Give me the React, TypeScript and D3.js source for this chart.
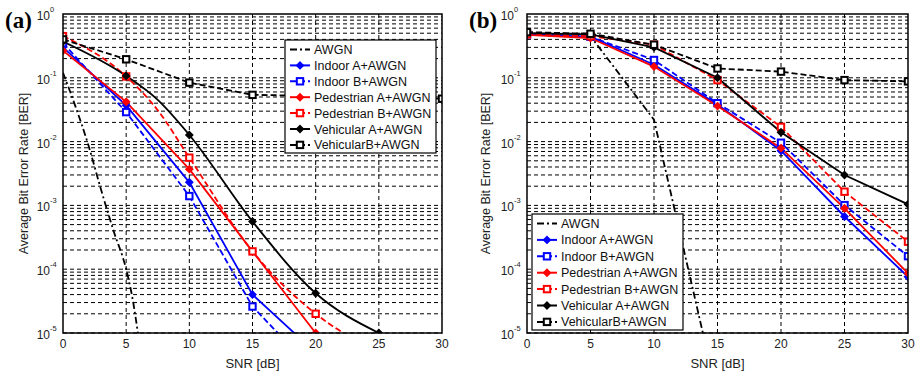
import React from "react";
import * as d3 from "d3";

// ---------- data ----------
const xTicks = [0, 5, 10, 15, 20, 25, 30];
const yExps = [0, -1, -2, -3, -4, -5];
const legendNames = [
  "AWGN",
  "Indoor A+AWGN",
  "Indoor B+AWGN",
  "Pedestrian A+AWGN",
  "Pedestrian B+AWGN",
  "Vehicular A+AWGN",
  "VehicularB+AWGN",
];

// panel (a)
const awgnA_x = [0, 1, 2, 3, 4, 5, 5.5, 6];
const awgnA_y = [0.12, 0.035, 0.0089, 0.0018, 4e-4, 1e-4, 3.5e-5, 8e-6];
const indoorA_A_x = [0, 5, 10, 15, 20];
const indoorA_A_y = [0.3, 0.037, 0.0023, 4.0e-5, 4.9e-6];
const indoorB_A_x = [0, 5, 10, 15, 20];
const indoorB_A_y = [0.35, 0.029, 0.0014, 2.6e-5, 2.4e-6];
const pedA_A_x = [0, 5, 10, 15, 20];
const pedA_A_y = [0.266, 0.042, 0.0037, 1.9e-4, 1.0e-5];
const pedB_A_x = [0, 5, 7.5, 10, 15, 20, 25];
const pedB_A_y = [0.45, 0.105, 0.031, 0.0056, 1.9e-4, 2.0e-5, 5e-6];
const vehA_A_x = [0, 5, 7.5, 10, 15, 20, 25];
const vehA_A_y = [0.37, 0.107, 0.045, 0.0127, 5.6e-4, 4.2e-5, 1.0e-5];
const vehB_A_x = [0, 5, 10, 15, 20, 25, 30];
const vehB_A_y = [0.4, 0.195, 0.084, 0.054, 0.052, 0.049, 0.047];
// which series of panel (a) are drawn as smooth curves
const smoothA = [true, false, false, false, true, true, false];

// panel (b)
const snrB = [0, 5, 10, 15, 20, 25, 30];
const awgnB_x = [0, 5, 10, 15];
const awgnB_y = [0.48, 0.45, 0.022, 1e-6];
const indoorA_B_y = [0.48, 0.44, 0.16, 0.038, 0.0072, 6.7e-4, 7.6e-5];
const indoorB_B_y = [0.48, 0.44, 0.19, 0.04, 0.0096, 0.00101, 1.6e-4];
const pedA_B_y = [0.47, 0.42, 0.15, 0.036, 0.0079, 9.0e-4, 8.6e-5];
const pedB_B_y = [0.48, 0.45, 0.33, 0.092, 0.017, 0.00164, 2.7e-4];
const vehA_B_y = [0.5, 0.48, 0.3, 0.1, 0.014, 0.003, 1.04e-3];
const vehB_B_y = [0.52, 0.49, 0.33, 0.14, 0.125, 0.092, 0.088];
const smoothB = [false, false, false, false, false, false, false];

// ---------- styles ----------
type Style = { color: string; dash: string | null; marker: "none" | "diamond" | "square"; width: number };
const styles: Style[] = [
  { color: "#000", dash: "7,3,2,3", marker: "none", width: 1.8 },
  { color: "#0000ff", dash: null, marker: "diamond", width: 1.8 },
  { color: "#0000ff", dash: "6,3", marker: "square", width: 1.8 },
  { color: "#ff0000", dash: null, marker: "diamond", width: 1.8 },
  { color: "#ff0000", dash: "6,3", marker: "square", width: 1.8 },
  { color: "#000", dash: null, marker: "diamond", width: 1.8 },
  { color: "#000", dash: "6,3", marker: "square", width: 1.8 },
];

const zip = (xs: number[], ys: number[]) => xs.map((x, i) => [x, ys[i]] as [number, number]);

const seriesA = [
  zip(awgnA_x, awgnA_y),
  zip(indoorA_A_x, indoorA_A_y),
  zip(indoorB_A_x, indoorB_A_y),
  zip(pedA_A_x, pedA_A_y),
  zip(pedB_A_x, pedB_A_y),
  zip(vehA_A_x, vehA_A_y),
  zip(vehB_A_x, vehB_A_y),
];
const seriesB = [
  zip(awgnB_x, awgnB_y),
  zip(snrB, indoorA_B_y),
  zip(snrB, indoorB_B_y),
  zip(snrB, pedA_B_y),
  zip(snrB, pedB_B_y),
  zip(snrB, vehA_B_y),
  zip(snrB, vehB_B_y),
];

const FONT = "'Liberation Sans', Arial, sans-serif";

function Marker({ kind, x, y, color }: { kind: string; x: number; y: number; color: string }) {
  if (kind === "diamond") {
    const r = 3.6;
    return <path d={`M${x},${y - r}L${x + r},${y}L${x},${y + r}L${x - r},${y}Z`} fill={color} stroke={color} strokeWidth={1.2} />;
  }
  if (kind === "square") {
    const s = 3.2;
    return <rect x={x - s} y={y - s} width={2 * s} height={2 * s} fill="#fff" stroke={color} strokeWidth={2} />;
  }
  return null;
}

type PanelProps = {
  id: string;
  label: string;
  left: number;
  right: number;
  top: number;
  bottom: number;
  series: [number, number][][];
  smooth: boolean[];
  legend: { x: number; y: number; w: number; h: number; step: number };
  tagX: number;
  ylabX: number;
};

function Panel(p: PanelProps) {
  const x = d3.scaleLinear().domain([0, 30]).range([p.left, p.right]);
  const y = d3.scaleLog().domain([1e-5, 1]).range([p.bottom, p.top]);
  const mkLine = (smooth: boolean) =>
    d3
      .line<[number, number]>()
      .x((d) => x(d[0]))
      .y((d) => y(d[1]))
      .curve(smooth ? d3.curveMonotoneX : d3.curveLinear);

  const minor: number[] = [];
  for (let e = -5; e < 0; e++) for (let k = 1; k <= 9; k++) minor.push(k * Math.pow(10, e));

  const clipId = `clip-${p.id}`;
  const lg = p.legend;
  return (
    <g>
      <defs>
        <clipPath id={clipId}>
          <rect x={p.left} y={p.top} width={p.right - p.left} height={p.bottom - p.top} />
        </clipPath>
      </defs>
      {/* grid */}
      {minor.map((v, i) => (
        <line key={"h" + i} x1={p.left} x2={p.right} y1={y(v)} y2={y(v)} stroke="#000" strokeWidth={1} strokeDasharray="4,3" />
      ))}
      {xTicks.slice(1, -1).map((t) => (
        <line key={"v" + t} x1={x(t)} x2={x(t)} y1={p.top} y2={p.bottom} stroke="#000" strokeWidth={1} strokeDasharray="4,3" />
      ))}
      {/* series */}
      <g clipPath={`url(#${clipId})`}>
        {p.series.map((s, i) => (
          <path
            key={"s" + i}
            d={mkLine(p.smooth[i])(s) || ""}
            fill="none"
            stroke={styles[i].color}
            strokeWidth={styles[i].width}
            strokeDasharray={styles[i].dash || undefined}
          />
        ))}
        {p.series.map((s, i) =>
          s
            .filter((d) => d[0] % 5 === 0 && d[1] >= 1e-5 * 0.98)
            .map((d, j) => <Marker key={`m${i}-${j}`} kind={styles[i].marker} x={x(d[0])} y={y(d[1])} color={styles[i].color} />)
        )}
      </g>
      {/* frame */}
      <rect x={p.left} y={p.top} width={p.right - p.left} height={p.bottom - p.top} fill="none" stroke="#000" strokeWidth={1.5} />
      {/* x tick labels */}
      {xTicks.map((t) => (
        <text key={"xt" + t} x={x(t)} y={p.bottom + 15} textAnchor="middle" fontFamily={FONT} fontSize={12} fill="#222">
          {t}
        </text>
      ))}
      {/* y tick labels */}
      {yExps.map((e) => (
        <g key={"yt" + e}>
          <text x={p.left - 13} y={y(Math.pow(10, e)) + 6} textAnchor="end" fontFamily={FONT} fontSize={12} fill="#222">
            10
          </text>
          <text x={p.left - 13} y={y(Math.pow(10, e)) - 2} textAnchor="start" fontFamily={FONT} fontSize={7.5} fill="#222">
            {e}
          </text>
        </g>
      ))}
      {/* axis labels */}
      <text x={(p.left + p.right) / 2} y={p.bottom + 35} textAnchor="middle" fontFamily={FONT} fontSize={13} fill="#222">
        SNR [dB]
      </text>
      <text
        transform={`translate(${p.ylabX},${(p.top + p.bottom) / 2}) rotate(-90)`}
        textAnchor="middle"
        fontFamily={FONT}
        fontSize={12.5}
        fill="#222"
      >
        Average Bit Error Rate [BER]
      </text>
      {/* panel tag */}
      <text x={p.tagX} y={28} fontFamily="'Liberation Serif', 'Times New Roman', serif" fontWeight="bold" fontSize={23} fill="#000">
        {p.label}
      </text>
      {/* legend */}
      <rect x={lg.x} y={lg.y} width={lg.w} height={lg.h} fill="#fff" stroke="#000" strokeWidth={1.2} />
      {legendNames.map((name, i) => {
        const cy = lg.y + 9.5 + i * lg.step;
        const st = styles[i];
        return (
          <g key={"lg" + i}>
            <line x1={lg.x + 5} x2={lg.x + 25} y1={cy} y2={cy} stroke={st.color} strokeWidth={2} strokeDasharray={st.dash || undefined} />
            <Marker kind={st.marker} x={lg.x + 15} y={cy} color={st.color} />
            <text x={lg.x + 29} y={cy + 4.5} fontFamily={FONT} fontSize={12.5} fill="#111">
              {name}
            </text>
          </g>
        );
      })}
    </g>
  );
}

export default function App() {
  return (
    <svg width={917} height={375} style={{ position: "absolute", left: 0, top: 0, background: "#fff" }}>
      <rect x={0} y={0} width={917} height={375} fill="#fff" />
      <Panel
        id="a"
        label="(a)"
        left={63}
        right={442}
        top={14}
        bottom={333}
        series={seriesA}
        smooth={smoothA}
        legend={{ x: 285, y: 40, w: 151, h: 113, step: 15.9 }}
        tagX={5}
        ylabX={28}
      />
      <Panel
        id="b"
        label="(b)"
        left={527}
        right={908}
        top={14}
        bottom={333}
        series={seriesB}
        smooth={smoothB}
        legend={{ x: 532, y: 214, w: 151, h: 116, step: 16.4 }}
        tagX={469}
        ylabX={490}
      />
    </svg>
  );
}
